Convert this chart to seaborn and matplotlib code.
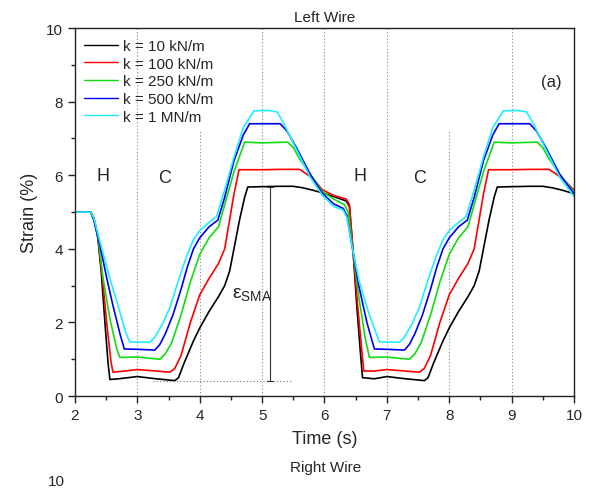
import numpy as np
import pandas as pd
import matplotlib
matplotlib.use("Agg")
import matplotlib.pyplot as plt
import seaborn as sns

labels = ["k = 10 kN/m", "k = 100 kN/m", "k = 250 kN/m", "k = 500 kN/m", "k = 1 MN/m"]
colors = ["#000000", "#ff0000", "#11dd11", "#0000ee", "#22eeff"]

t_k10 = [2.0, 2.25, 2.3, 2.36, 2.42, 2.48, 2.53, 2.56, 2.7, 3.0, 3.3, 3.6, 3.66, 3.75, 3.9, 4.0, 4.15, 4.3, 4.4,
         4.48, 4.56, 4.64, 4.72, 4.77, 5.0, 5.3, 5.5, 5.65, 5.8, 5.97, 6.15, 6.35, 6.4, 6.46, 6.52, 6.58, 6.61,
         6.8, 7.0, 7.3, 7.6, 7.66, 7.75, 7.9, 8.0, 8.15, 8.3, 8.4, 8.48, 8.56, 8.64, 8.72, 8.77, 9.0, 9.3, 9.5,
         9.65, 9.8, 10.0]
s_k10 = [5.0, 5.0, 4.85, 4.4, 3.4, 2.0, 0.9, 0.45, 0.47, 0.53, 0.47, 0.42, 0.5, 0.9, 1.5, 1.85, 2.3, 2.7, 3.0,
         3.4, 4.1, 4.8, 5.4, 5.68, 5.69, 5.7, 5.7, 5.66, 5.6, 5.52, 5.42, 5.3, 5.15, 3.9, 2.4, 1.1, 0.5,
         0.47, 0.53, 0.47, 0.42, 0.5, 0.9, 1.5, 1.85, 2.3, 2.7, 3.0, 3.4, 4.1, 4.8, 5.4, 5.68, 5.69, 5.7, 5.7,
         5.66, 5.6, 5.5]

t_k100 = [2.0, 2.25, 2.3, 2.37, 2.44, 2.52, 2.58, 2.61, 2.8, 3.0, 3.3, 3.52, 3.6, 3.7, 3.85, 4.0, 4.15, 4.3, 4.4,
          4.47, 4.55, 4.63, 5.0, 5.3, 5.6, 5.7, 5.82, 5.97, 6.15, 6.35, 6.4, 6.46, 6.53, 6.6, 6.63,
          6.8, 7.0, 7.3, 7.52, 7.6, 7.7, 7.85, 8.0, 8.15, 8.3, 8.4, 8.47, 8.55, 8.63, 9.0, 9.3, 9.6, 9.7,
          9.82, 10.0]
s_k100 = [5.0, 5.0, 4.85, 4.3, 3.2, 1.8, 0.9, 0.65, 0.68, 0.72, 0.68, 0.65, 0.75, 1.1, 2.0, 2.75, 3.2, 3.6, 4.0,
          4.7, 5.5, 6.15, 6.15, 6.16, 6.16, 6.05, 5.9, 5.6, 5.45, 5.35, 5.2, 3.9, 2.5, 1.2, 0.68,
          0.68, 0.72, 0.68, 0.65, 0.75, 1.1, 2.0, 2.75, 3.2, 3.6, 4.0, 4.7, 5.5, 6.15, 6.15, 6.16, 6.16, 6.05,
          5.9, 5.6]

t_k250 = [2.0, 2.25, 2.3, 2.38, 2.45, 2.56, 2.67, 2.72, 3.0, 3.36, 3.45, 3.55, 3.7, 3.85, 4.0, 4.15, 4.3, 4.4,
          4.55, 4.72, 5.0, 5.41, 5.5, 5.6, 5.77, 5.97, 6.15, 6.32, 6.38, 6.46, 6.55, 6.65, 6.72,
          7.0, 7.36, 7.45, 7.55, 7.7, 7.85, 8.0, 8.15, 8.3, 8.4, 8.55, 8.72, 9.0, 9.41, 9.5, 9.6, 9.77, 10.0]
s_k250 = [5.0, 5.0, 4.8, 4.2, 3.2, 2.1, 1.28, 1.05, 1.06, 1.0, 1.15, 1.45, 2.2, 3.1, 3.85, 4.3, 4.6, 5.2,
          6.1, 6.9, 6.88, 6.9, 6.75, 6.45, 6.03, 5.55, 5.35, 5.2, 5.0, 3.9, 2.7, 1.6, 1.05,
          1.06, 1.0, 1.15, 1.45, 2.2, 3.1, 3.85, 4.3, 4.6, 5.2, 6.1, 6.9, 6.88, 6.9, 6.75, 6.45, 6.03, 5.55]

t_k500 = [2.0, 2.25, 2.3, 2.4, 2.51, 2.61, 2.72, 2.79, 3.0, 3.28, 3.36, 3.45, 3.57, 3.7, 3.8, 3.9, 4.0, 4.15,
          4.29, 4.4, 4.55, 4.7, 4.8, 5.0, 5.29, 5.4, 5.55, 5.77, 5.97, 6.15, 6.3, 6.36, 6.46, 6.55, 6.68, 6.8,
          7.0, 7.28, 7.36, 7.45, 7.57, 7.7, 7.8, 7.9, 8.0, 8.15, 8.29, 8.4, 8.55, 8.7, 8.8, 9.0, 9.29, 9.4,
          9.55, 9.77, 10.0]
s_k500 = [5.0, 5.0, 4.8, 4.1, 3.2, 2.45, 1.7, 1.28, 1.27, 1.25, 1.4, 1.7, 2.2, 2.9, 3.5, 4.0, 4.3, 4.6,
          4.78, 5.4, 6.4, 7.1, 7.4, 7.4, 7.4, 7.2, 6.75, 6.03, 5.5, 5.22, 5.1, 4.9, 3.9, 3.0, 2.0, 1.28,
          1.27, 1.25, 1.4, 1.7, 2.2, 2.9, 3.5, 4.0, 4.3, 4.6, 4.78, 5.4, 6.4, 7.1, 7.4, 7.4, 7.4, 7.2,
          6.75, 6.03, 5.5]

t_k1000 = [2.0, 2.25, 2.3, 2.4, 2.56, 2.72, 2.82, 2.88, 3.0, 3.2, 3.28, 3.4, 3.52, 3.65, 3.79, 3.9, 4.0, 4.15,
           4.27, 4.4, 4.55, 4.7, 4.87, 5.1, 5.24, 5.35, 5.55, 5.77, 5.97, 6.15, 6.3, 6.36, 6.46, 6.56, 6.72, 6.88,
           7.0, 7.2, 7.28, 7.4, 7.52, 7.65, 7.79, 7.9, 8.0, 8.15, 8.27, 8.4, 8.55, 8.7, 8.87, 9.1, 9.24, 9.35,
           9.55, 9.77, 10.0]
s_k1000 = [5.0, 5.0, 4.85, 4.2, 3.2, 2.28, 1.7, 1.47, 1.47, 1.46, 1.6, 1.95, 2.4, 3.1, 3.8, 4.25, 4.5, 4.72,
           4.88, 5.6, 6.5, 7.3, 7.75, 7.76, 7.72, 7.4, 6.7, 5.95, 5.45, 5.15, 5.05, 4.85, 3.9, 3.1, 2.2, 1.47,
           1.47, 1.46, 1.6, 1.95, 2.4, 3.1, 3.8, 4.25, 4.5, 4.72, 4.88, 5.6, 6.5, 7.3, 7.75, 7.76, 7.72, 7.4,
           6.7, 5.95, 5.42]

series_t = [t_k10, t_k100, t_k250, t_k500, t_k1000]
series_s = [s_k10, s_k100, s_k250, s_k500, s_k1000]

frames = []
for lab, t, s in zip(labels, series_t, series_s):
    frames.append(pd.DataFrame({"Time": t, "Strain": s, "k": lab}))
df = pd.concat(frames, ignore_index=True)

sns.set_style("ticks")
plt.rcParams["font.family"] = ["Liberation Sans", "DejaVu Sans"]
plt.rcParams["mathtext.fontset"] = "custom"
plt.rcParams["mathtext.rm"] = "Liberation Sans"
plt.rcParams["mathtext.it"] = "Liberation Sans:italic"

fig = plt.figure(figsize=(5.89, 4.89), dpi=100)
ax = fig.add_axes([0.1273, 0.188, 0.8472, 0.7526])

# phase markers
for xv in [3, 5, 6, 7, 9]:
    ax.plot([xv, xv], [0, 10], color="#888888", ls=(0, (1, 2)), lw=0.8, zorder=1)
for xv in [4, 8]:
    ax.plot([xv, xv], [0, 7.2], color="#888888", ls=(0, (1, 2)), lw=0.8, zorder=1)

sns.lineplot(data=df, x="Time", y="Strain", hue="k", hue_order=labels, palette=colors,
             sort=False, estimator=None, units="k", lw=1.2, ax=ax, legend=True)

# epsilon SMA annotation
ax.plot([3.25, 5.48], [0.41, 0.41], color="#777777", ls=(0, (1, 2)), lw=0.8)
ax.plot([5.13, 5.13], [0.41, 5.68], color="#333333", lw=0.8)
ax.plot([5.08, 5.18], [0.41, 0.41], color="#333333", lw=0.8)
ax.plot([5.08, 5.18], [5.68, 5.68], color="#333333", lw=0.8)
ax.text(4.52, 2.78, r"$\mathregular{ε_{SMA}}$", fontsize=14, ha="left", va="center")

for xh, xc in [(2.45, 3.44), (6.57, 7.53)]:
    ax.text(xh, 6.0, "H", fontsize=13, ha="center", va="center")
    ax.text(xc, 5.93, "C", fontsize=13, ha="center", va="center")
ax.text(9.63, 8.55, "(a)", fontsize=12, ha="center", va="center")

ax.set_xlim(2, 10)
ax.set_ylim(0, 10)
ax.set_xticks(range(2, 11))
ax.set_yticks(range(0, 11, 2))
ax.set_xticks(np.arange(2.5, 10, 1), minor=True)
ax.set_yticks(range(1, 10, 2), minor=True)
ax.tick_params(axis="both", which="major", direction="out", length=5, width=1, labelsize=11, color="#222222")
ax.tick_params(axis="both", which="minor", direction="out", length=3, width=1, color="#222222")
for sp in ax.spines.values():
    sp.set_visible(True)
    sp.set_linewidth(1.0)
    sp.set_color("#222222")

ax.set_xlabel("Time (s)", fontsize=13, labelpad=6)
ax.set_ylabel("Strain (%)", fontsize=13, labelpad=6)
ax.set_title("Left Wire", fontsize=11, pad=5)

leg = ax.legend(loc="upper left", frameon=False, fontsize=11, handlelength=2.2, handletextpad=0.35,
                labelspacing=0.24, borderaxespad=0.2, bbox_to_anchor=(0.0, 0.995))
for line in leg.get_lines():
    line.set_linewidth(1.0)

fig.text(0.552, 0.042, "Right Wire", fontsize=11, ha="center", va="center")
fig.text(0.095, 0.0, "10", fontsize=11, ha="center", va="bottom")

fig.savefig("out.png", dpi=100)
